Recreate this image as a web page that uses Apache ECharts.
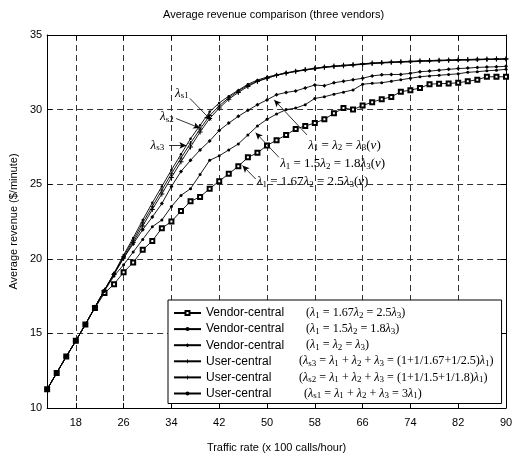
<!DOCTYPE html>
<html><head><meta charset="utf-8">
<script src="https://cdn.jsdelivr.net/npm/echarts@6/dist/echarts.min.js"></script>
<style>html,body{margin:0;padding:0;background:#fff}#c{width:522px;height:463px}</style>
</head><body><div id="c"></div>
<script>
const trafficRate = [13.2,14.8,16.4,18.0,19.6,21.2,22.8,24.4,26.0,27.6,29.2,30.8,32.4,34.0,35.6,37.2,38.8,40.4,42.0,43.6,45.2,46.8,48.4,50.0,51.6,53.2,54.8,56.4,58.0,59.6,61.2,62.8,64.4,66.0,67.6,69.2,70.8,72.4,74.0,75.6,77.2,78.8,80.4,82.0,83.6,85.2,86.8,88.4,90.0];
const vendor167 = [11.25,12.35,13.45,14.5,15.6,16.7,17.7,18.3,19.1,19.75,20.6,21.2,22.05,22.5,23.2,23.85,24.15,24.7,25.2,25.7,26.2,26.8,27.1,27.6,27.95,28.3,28.7,28.9,29.1,29.35,29.75,30.1,30.0,30.27,30.5,30.7,30.85,31.2,31.3,31.45,31.7,31.74,31.75,31.8,31.9,32.0,32.2,32.2,32.2];
const vendor15 = [11.25,12.35,13.45,14.5,15.6,16.75,17.85,18.85,19.6,20.45,21.3,22.15,22.6,23.5,24.25,24.7,25.65,26.6,26.9,27.3,27.7,28.3,28.9,29.35,29.7,30.0,30.1,30.33,30.75,30.86,31.03,31.17,31.32,31.7,31.76,31.8,31.9,32.0,32.1,32.2,32.26,32.3,32.35,32.4,32.5,32.54,32.6,32.64,32.7];
const vendorEqual = [11.25,12.35,13.45,14.5,15.6,16.75,17.9,19.0,20.05,21.0,21.95,22.8,23.7,24.85,25.85,26.6,27.3,27.9,28.6,29.1,29.55,29.95,30.33,30.65,31.0,31.15,31.25,31.45,31.65,31.6,31.8,31.9,32.0,32.1,32.26,32.33,32.35,32.36,32.43,32.54,32.58,32.64,32.7,32.75,32.78,32.83,32.85,32.87,32.9];
const userS3 = [11.25,12.35,13.45,14.5,15.6,16.75,17.9,18.95,20.05,21.1,22.2,23.3,24.35,25.45,26.5,27.5,28.5,29.4,30.1,30.7,31.15,31.55,31.88,32.1,32.3,32.45,32.57,32.68,32.77,32.85,32.92,32.97,33.02,33.07,33.12,33.16,33.19,33.22,33.24,33.27,33.29,33.31,33.33,33.35,33.36,33.38,33.39,33.4,33.41];
const userS2 = [11.25,12.35,13.45,14.5,15.6,16.75,17.9,19.0,20.15,21.25,22.4,23.5,24.6,25.7,26.75,27.75,28.7,29.6,30.25,30.8,31.25,31.62,31.92,32.12,32.3,32.44,32.55,32.65,32.74,32.82,32.88,32.93,32.98,33.03,33.08,33.12,33.15,33.18,33.2,33.23,33.25,33.27,33.29,33.31,33.33,33.34,33.36,33.37,33.38];
const userS1 = [11.25,12.35,13.45,14.5,15.6,16.75,17.9,19.05,20.25,21.4,22.6,23.75,24.85,25.95,27.0,28.05,28.95,29.85,30.45,30.9,31.3,31.7,31.98,32.18,32.33,32.47,32.57,32.67,32.76,32.85,32.9,32.95,33.0,33.05,33.1,33.15,33.17,33.2,33.22,33.25,33.27,33.29,33.3,33.32,33.33,33.35,33.36,33.37,33.38];
const xTickLabels = [18,26,34,42,50,58,66,74,82,90];
const yTickLabels = [10,15,20,25,30,35];
const legendGroups = ['Vendor-central','Vendor-central','Vendor-central','User-central','User-central','User-central'];
const legendFormulas = [
  '(L_1 = 1.67L_2 = 2.5L_3)',
  '(L_1 = 1.5L_2 = 1.8L_3)',
  '(L_1 = L_2 = L_3)',
  '(L_s3 = L_1 + L_2 + L_3 = (1+1/1.67+1/2.5)L_1)',
  '(L_s2 = L_1 + L_2 + L_3 = (1+1/1.5+1/1.8)L_1)',
  '(L_s1 = L_1 + L_2 + L_3 = 3L_1)'
];
const annotTexts = ['L_s1','L_s2','L_s3','L_1 = L_2 = L_3(~)','L_1 = 1.5L_2 = 1.8L_3(~)','L_1 = 1.67L_2 = 2.5L_3(~)'];
const annotAt = [[34.6,31.1],[32.1,29.5],[30.5,27.6],[56.9,27.6],[52.2,26.35],[48.3,25.15]];
const arrows = [[37.1,30.75,40.66,29.28],[34.8,29.4,38.8,28.76],[33.6,27.6,36.5,27.6],[56.7,28.3,51.2,30.65],[52.0,26.8,48.1,28.45],[48.1,25.35,45.9,26.25]];

const SERIF = 'Liberation Serif', SANS = 'Liberation Sans';
function fm(s){ return '{t|' + s.replace(/L_(\w+)/g, '}{i|λ}{s|$1}{t|').replace(/~/g, '}{i|ν}{t|') + '}'; }
function mkRich(fs){
  return {
    t:{fontFamily:SERIF,fontSize:fs,lineHeight:14,color:'#000'},
    i:{fontFamily:SERIF,fontSize:fs,lineHeight:14,fontStyle:'italic',color:'#000'},
    s:{fontFamily:SERIF,fontSize:9,lineHeight:10,padding:[5,0,0,0],color:'#000'}
  };
}
const richBase = mkRich(13);
const colW = [100,100,100,93,93,98];
const rich = mkRich(12.1);
colW.forEach((w,k)=>{ rich['a'+k] = {fontFamily:SANS,fontSize:12,lineHeight:14,width:w,color:'#000'}; });

const plus = 'path://M4,0H6V4H10V6H6V10H4V6H0V4H4Z';
const keys = ['v167','v15','veq','us3','us2','us1'];
const values = [vendor167, vendor15, vendorEqual, userS3, userS2, userS1];
const symbols = ['emptyRect','circle','diamond',plus,plus,'circle'];
const sizes = [4,3,4,5,4.5,2.5];

const series = keys.map((k,j)=>({
  name:k, type:'line', xAxisIndex:0, yAxisIndex:0,
  data: trafficRate.map((x,i)=>[x, values[j][i]]),
  symbol: symbols[j], symbolSize: sizes[j], showSymbol:true,
  lineStyle:{color:'#000',width:0.9}, itemStyle:{color:'#000',borderWidth:0.8},
  emphasis:{disabled:true}, z: 2+j
}));
series[5].markLine = {
  silent:true, symbol:['none','arrow'], symbolSize:[5,7], animation:false,
  lineStyle:{color:'#000',width:0.8,type:'solid'}, label:{show:false},
  data: arrows.map(a=>[{coord:[a[0],a[1]]},{coord:[a[2],a[3]]}])
};

const tickCommon = {show:true,inside:true,length:5,lineStyle:{color:'#000',width:1}};
const chart = echarts.init(document.getElementById('c'), null, {renderer:'canvas'});
const option = {
  animation:false, backgroundColor:'#fff',
  title:{text:'Average revenue comparison (three vendors)', left:158, top:4,
    textStyle:{fontFamily:SANS,fontSize:11,fontWeight:'normal',color:'#000'}},
  grid:{left:43,right:16,top:35,bottom:55,containLabel:false},
  xAxis:[
    {type:'value',position:'bottom',min:13.2,max:90,
     name:'Traffic rate (x 100 calls/hour)',nameLocation:'middle',nameGap:34,
     nameTextStyle:{fontFamily:SANS,fontSize:11,color:'#000'},
     axisLine:{show:true,lineStyle:{color:'#000',width:1}},
     axisTick:Object.assign({customValues:xTickLabels},tickCommon),
     axisLabel:{customValues:xTickLabels,fontFamily:SANS,fontSize:11,color:'#000',margin:9},
     splitLine:{show:true,lineStyle:{color:'#333',width:1,type:[6,4]}}},
    {type:'value',position:'top',min:13.2,max:90,
     axisLine:{show:true,onZero:false,lineStyle:{color:'#000',width:1}},
     axisTick:Object.assign({customValues:xTickLabels},tickCommon),
     axisLabel:{show:false},splitLine:{show:false}}
  ],
  yAxis:[
    {type:'value',position:'left',min:10,max:35,interval:5,
     name:'Average revenue ($/minute)',nameLocation:'middle',nameGap:25,nameRotate:90,
     nameTextStyle:{fontFamily:SANS,fontSize:11,color:'#000'},
     axisLine:{show:true,lineStyle:{color:'#000',width:1}},
     axisTick:tickCommon,
     axisLabel:{fontFamily:SANS,fontSize:11,color:'#000',margin:5},
     splitLine:{show:true,lineStyle:{color:'#333',width:1,type:[6,4]}}},
    {type:'value',position:'right',min:10,max:35,interval:5,
     axisLine:{show:true,onZero:false,lineStyle:{color:'#000',width:1}},
     axisTick:tickCommon, axisLabel:{show:false}, splitLine:{show:false}}
  ],
  legend:{
    show:true, orient:'vertical', left:168, top:300, padding:[6,8,3,5],
    itemGap:2.1, itemWidth:27, itemHeight:5, selectedMode:false,
    backgroundColor:'#fff', borderColor:'#000', borderWidth:1,
    data: keys,
    formatter: name => { const k = keys.indexOf(name); return '{a'+k+'|'+legendGroups[k]+'}' + fm(legendFormulas[k]); },
    textStyle:{rich:rich, fontSize:12}
  },
  series: series
};
chart.setOption(option);
const g = annotTexts.map((t,k)=>{
  const p = chart.convertToPixel({gridIndex:0}, annotAt[k]);
  return {type:'text', x:p[0], y:p[1], z:100,
    style:{text:fm(t), rich:richBase, verticalAlign:'middle', align:'left', fill:'#000'}};
});
chart.setOption({graphic:g});
</script></body></html>
